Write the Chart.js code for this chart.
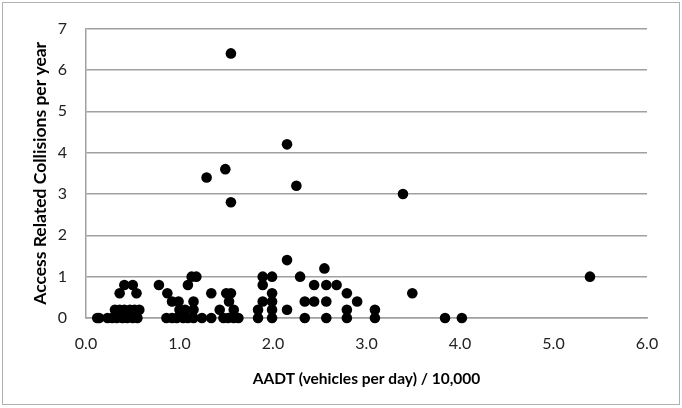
<!DOCTYPE html>
<html>
<head>
<meta charset="utf-8">
<script src="https://cdn.jsdelivr.net/npm/chart.js@4"></script>
<style>
  html, body { margin: 0; padding: 0; background: #fff; }
  #wrap { width: 682px; height: 408px; }
</style>
</head>
<body>
<div id="wrap"><canvas id="chart" width="682" height="408"></canvas></div>
<script>
// AADT in units of 10,000 vehicles per day
const aadt = [
    0.12, 0.14, 0.23, 0.28, 0.33, 0.39, 0.44, 0.50, 0.55,
    0.31, 0.36, 0.41, 0.47, 0.52, 0.57,
    0.36, 0.54, 0.41, 0.50,
    0.78, 0.87, 0.92, 0.99, 1.15,
    0.86, 0.92, 0.97, 1.04, 1.09, 1.15, 1.24, 1.34, 1.47, 1.52, 1.58, 1.63,
    1.00, 1.06, 1.15, 1.09, 1.13, 1.18,
    1.34, 1.50, 1.55, 1.53, 1.43, 1.58,
    1.29, 1.49, 1.55, 1.55,
    1.84, 1.84, 1.89, 1.89, 1.89,
    1.99, 1.99, 1.99, 1.99, 1.99,
    2.15, 2.15, 2.15, 2.25, 2.29,
    2.34, 2.34, 2.44, 2.44, 2.55, 2.57, 2.57, 2.57, 2.68,
    2.79, 2.79, 2.79, 2.90, 3.09, 3.09,
    3.39, 3.49, 3.84, 4.02, 5.39
];
const collisions = [
    0, 0, 0, 0, 0, 0, 0, 0, 0,
    0.2, 0.2, 0.2, 0.2, 0.2, 0.2,
    0.6, 0.6, 0.8, 0.8,
    0.8, 0.6, 0.4, 0.4, 0.4,
    0, 0, 0, 0, 0, 0, 0, 0, 0, 0, 0, 0,
    0.2, 0.2, 0.2, 0.8, 1.0, 1.0,
    0.6, 0.6, 0.6, 0.4, 0.2, 0.2,
    3.4, 3.6, 2.8, 6.4,
    0, 0.2, 0.4, 0.8, 1.0,
    0, 0.2, 0.4, 0.6, 1.0,
    0.2, 1.4, 4.2, 3.2, 1.0,
    0, 0.4, 0.4, 0.8, 1.2, 0.8, 0.4, 0, 0.8,
    0.6, 0.2, 0, 0.4, 0.2, 0,
    3.0, 0.6, 0, 0, 1.0
];

const xTitle = "AADT (vehicles per day) / 10,000";
const yTitle = "Access Related Collisions per year";

const points = aadt.map((x, i) => ({ x: x, y: collisions[i] }));

// white background + light frame like the spreadsheet chart area
const frame = {
    id: "frame",
    beforeDraw(c) {
        const ctx = c.ctx;
        ctx.save();
        ctx.fillStyle = "#fff";
        ctx.fillRect(0, 0, c.width, c.height);
        ctx.strokeStyle = "#b0b0b0";
        ctx.lineWidth = 1;
        ctx.strokeRect(2.5, 2.5, 677, 402);
        ctx.restore();
    }
};

const fam = "Lato, 'Open Sans', sans-serif";
const tickFont = { family: fam, size: 16 };

new Chart(document.getElementById("chart"), {
    type: "scatter",
    data: {
        datasets: [{
            data: points,
            backgroundColor: "#000",
            borderWidth: 0,
            pointRadius: 5.3,
            pointHoverRadius: 5.3,
            clip: false
        }]
    },
    options: {
        responsive: false,
        animation: false,
        events: [],
        layout: { padding: { top: 14.4, right: 35, bottom: 0, left: 0 } },
        plugins: {
            legend: { display: false },
            tooltip: { enabled: false }
        },
        scales: {
            x: {
                min: 0,
                max: 6,
                afterFit(scale) { scale.height = 90; },
                ticks: {
                    stepSize: 1,
                    padding: 16,
                    color: "#222",
                    font: tickFont,
                    maxRotation: 0,
                    callback: v => v.toFixed(1)
                },
                grid: { display: false, drawTicks: false },
                border: { display: true, color: "#a0a0a0", width: 1.5 },
                title: {
                    display: true,
                    text: xTitle,
                    color: "#000",
                    font: { family: fam, size: 15.5, weight: "bold" },
                    padding: { top: 0, bottom: 20 }
                }
            },
            y: {
                min: 0,
                max: 7,
                afterFit(scale) { scale.width = 86; },
                ticks: {
                    stepSize: 1,
                    padding: 19,
                    color: "#222",
                    font: tickFont
                },
                grid: { color: "#a0a0a0", lineWidth: 1.5, drawTicks: false },
                border: { display: true, color: "#a0a0a0", width: 1.5 },
                title: {
                    display: true,
                    text: yTitle,
                    color: "#000",
                    font: { family: fam, size: 17.5, weight: "bold" },
                    padding: { top: 30, bottom: 0 }
                }
            }
        }
    },
    plugins: [frame]
});
</script>
</body>
</html>
